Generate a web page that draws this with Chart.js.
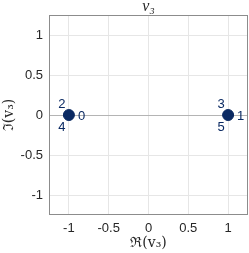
<!DOCTYPE html>
<html>
<head>
<meta charset="utf-8">
<script src="https://cdn.jsdelivr.net/npm/chart.js@4"></script>
<style>
  html, body { margin: 0; padding: 0; background: #fff; }
  #wrap { width: 249px; height: 253px; }
</style>
</head>
<body>
<div id="wrap"><canvas id="v3Chart" width="249" height="253"></canvas></div>
<script>
// eigenvalue positions (real, imag) and their indices
var realPart = [-1, 1];
var imagPart = [0, 0];
var pointNames = [['0', '2', '4'], ['1', '3', '5']];
var tickValues = [-1, -0.5, 0, 0.5, 1];
var axisMin = -1.25;
var axisMax = 1.25;

var navy = '#0b2a63';
var textGrey = '#262626';

var points = realPart.map(function(r, i) {
    return { x: r, y: imagPart[i] };
});

// labels around each point + frame + titles
var decor = {
    id: 'decor',
    beforeDatasetsDraw: function(chart) {
        var c = chart.ctx, a = chart.chartArea;
        var ys = chart.scales.y;
        c.save();
        c.strokeStyle = '#b4b4b4';
        c.lineWidth = 1;
        c.beginPath();
        c.moveTo(a.left, Math.round(ys.getPixelForValue(0)) + 0.5);
        c.lineTo(a.right, Math.round(ys.getPixelForValue(0)) + 0.5);
        c.stroke();
        c.restore();
    },
    afterDraw: function(chart) {
        var c = chart.ctx, a = chart.chartArea;
        var xs = chart.scales.x, ys = chart.scales.y;
        c.save();
        c.strokeStyle = '#8c8c8c';
        c.lineWidth = 1;
        c.strokeRect(a.left + 0.5, a.top + 0.5, a.right - a.left - 1, a.bottom - a.top - 1);

        c.fillStyle = navy;
        c.font = '13px "Liberation Sans", Arial, sans-serif';
        c.textBaseline = 'middle';
        points.forEach(function(p, i) {
            var px = xs.getPixelForValue(p.x), py = ys.getPixelForValue(p.y);
            var n = pointNames[i];
            c.textAlign = 'left';
            c.fillText(n[0], px + 9, py + 1);
            c.textAlign = 'center';
            c.fillText(n[1], px - 7, py - 11);
            c.fillText(n[2], px - 7, py + 12);
        });

        c.fillStyle = textGrey;
        c.textAlign = 'center';
        c.font = 'italic 16px "Liberation Serif", "DejaVu Serif", serif';
        c.fillText('v\u2083', (a.left + a.right) / 2, 7);

        c.font = '14px "DejaVu Serif", serif';
        c.fillText('\u211C(v\u2083)', (a.left + a.right) / 2, 243);

        c.translate(9, (a.top + a.bottom) / 2);
        c.rotate(-Math.PI / 2);
        c.fillText('\u2111(v\u2083)', 0, 0);
        c.restore();
    }
};

var ctx = document.getElementById('v3Chart').getContext('2d');

new Chart(ctx, {
    type: 'scatter',
    data: {
        datasets: [
            {
                label: 'v3',
                data: points,
                backgroundColor: navy,
                borderColor: navy,
                pointRadius: 5.5,
                pointHoverRadius: 5.5
            }
        ]
    },
    options: {
        responsive: false,
        animation: false,
        events: [],
        layout: {
            autoPadding: false,
            padding: { top: 15, right: 1, left: 0, bottom: 0 }
        },
        plugins: {
            legend: { display: false },
            tooltip: { enabled: false }
        },
        scales: {
            x: {
                type: 'linear',
                min: axisMin,
                max: axisMax,
                afterFit: function(s) {
                    s.height = 38;
                    s.paddingLeft = 0;
                    s.paddingRight = 0;
                },
                afterBuildTicks: function(s) {
                    s.ticks = tickValues.map(function(v) { return { value: v }; });
                },
                grid: { color: '#e6e6e6', drawTicks: false },
                border: { display: false },
                ticks: {
                    padding: 6,
                    color: textGrey,
                    font: { family: '"Liberation Sans", Arial, sans-serif', size: 13 },
                    maxRotation: 0,
                    callback: function(v) { return String(v); }
                }
            },
            y: {
                type: 'linear',
                min: axisMin,
                max: axisMax,
                afterFit: function(s) {
                    s.width = 49;
                    s.paddingTop = 0;
                    s.paddingBottom = 0;
                },
                afterBuildTicks: function(s) {
                    s.ticks = tickValues.map(function(v) { return { value: v }; });
                },
                grid: { color: '#e6e6e6', drawTicks: false },
                border: { display: false },
                ticks: {
                    padding: 6,
                    color: textGrey,
                    font: { family: '"Liberation Sans", Arial, sans-serif', size: 13 },
                    callback: function(v) { return String(v); }
                }
            }
        }
    },
    plugins: [decor]
});
</script>
</body>
</html>
